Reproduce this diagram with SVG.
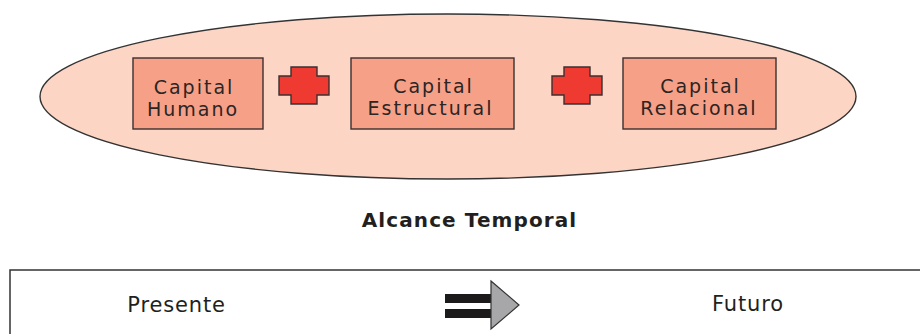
<svg xmlns="http://www.w3.org/2000/svg" width="920" height="334" viewBox="0 0 920 334">
<style>
.box{fill:#F6A088;stroke:#3a3030;stroke-width:1.4}
.cross{fill:#EE3A31;stroke:#3a3030;stroke-width:1.4}
.lbl{font-family:"DejaVu Sans",Verdana,sans-serif;font-size:19px;letter-spacing:2px;fill:#2b2523;text-anchor:middle}
.t{font-family:"DejaVu Sans",Verdana,sans-serif;font-size:21px;letter-spacing:0.85px;fill:#231f20;text-anchor:middle}
.title{font-family:"DejaVu Sans",Verdana,sans-serif;font-size:20px;font-weight:bold;letter-spacing:1.1px;fill:#231f20;text-anchor:middle}
</style>
<rect width="920" height="334" fill="#ffffff"/>
<g id="alcance-ellipse">
<ellipse cx="448" cy="96.5" rx="408" ry="82.5" fill="#FCD5C5" stroke="#333" stroke-width="1.4"/>
</g>
<g id="capital-humano">
<rect class="box" x="133" y="58" width="130" height="71"/>
<text class="lbl" x="194" y="93.5">Capital</text>
<text class="lbl" x="193" y="115.5">Humano</text>
</g>
<g id="plus-1">
<path class="cross" d="M291,67 H317 V76 H329 V95 H317 V104 H291 V95 H279 V76 H291 Z"/>
</g>
<g id="capital-estructural">
<rect class="box" x="351" y="58" width="163" height="71"/>
<text class="lbl" x="433.5" y="92.5">Capital</text>
<text class="lbl" x="430.5" y="114.5">Estructural</text>
</g>
<g id="plus-2">
<path class="cross" d="M564,67 H590 V76 H602 V95 H590 V104 H564 V95 H552 V76 H564 Z"/>
</g>
<g id="capital-relacional">
<rect class="box" x="623" y="58" width="153" height="71"/>
<text class="lbl" x="700.5" y="92.5">Capital</text>
<text class="lbl" x="699" y="114.5">Relacional</text>
</g>
<g id="alcance-temporal">
<text class="title" x="469.5" y="227">Alcance Temporal</text>
</g>
<g id="timeline">
<rect x="10" y="270" width="920" height="100" fill="#ffffff" stroke="#333" stroke-width="1.5"/>
<text class="t" x="176.5" y="312">Presente</text>
<text class="t" x="748" y="311">Futuro</text>
</g>
<g id="connectors">
<rect x="445" y="294" width="47" height="9" fill="#1c1a1a"/>
<rect x="445" y="309" width="47" height="9" fill="#1c1a1a"/>
<path d="M491,281 L519,305 L491,329 Z" fill="#A7A7A9" stroke="#333" stroke-width="1.2"/>
</g>
</svg>
